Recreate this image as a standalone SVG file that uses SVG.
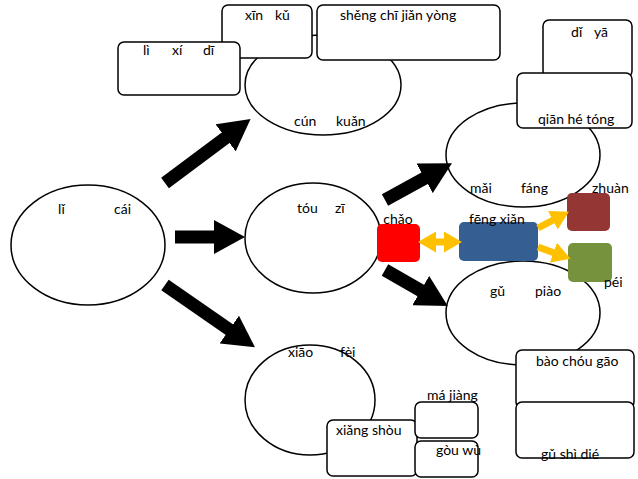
<svg xmlns="http://www.w3.org/2000/svg" width="638" height="479" viewBox="0 0 638 479">
<style>
.e{fill:#fff;stroke:#000;stroke-width:1.5}
.b{fill:#fff;stroke:#000;stroke-width:1.5}
text{font-family:Lato,"Liberation Sans","DejaVu Sans",sans-serif;font-size:14px;fill:#000}
.k{fill:none;stroke:#000;stroke-width:13}
.y{fill:none;stroke:#FFC000;stroke-width:7}
</style>
<defs>
<marker id="ka" markerWidth="2.4" markerHeight="2.6" refX="1" refY="1.3" orient="auto" markerUnits="strokeWidth"><path d="M0,0L2.4,1.3L0,2.6z" fill="#000"/></marker>
<marker id="ya" markerWidth="2.6" markerHeight="3" refX="1" refY="1.5" orient="auto-start-reverse" markerUnits="strokeWidth"><path d="M0,0L2.6,1.5L0,3z" fill="#FFC000"/></marker>
</defs>
<g id="licai"><ellipse class="e" cx="88" cy="245" rx="77" ry="60"/><text x="58" y="214">lǐ</text><text x="114" y="214">cái</text></g>
<g id="cunkuan"><ellipse class="e" cx="323" cy="85" rx="78" ry="50"/><text x="294" y="126">cún</text><text x="336" y="126">kuǎn</text></g>
<g id="xinku"><rect class="b" x="222" y="5" width="90" height="53" rx="6"/><text x="245" y="20">xīn</text><text x="275" y="20">kǔ</text></g>
<g id="shengchi"><rect class="b" x="317" y="5" width="183" height="55" rx="6"/><text x="340" y="20">shěng chī jiǎn yòng</text></g>
<g id="lixidi"><rect class="b" x="118" y="42" width="122" height="53" rx="6"/><text x="143" y="55">lì</text><text x="172" y="55">xí</text><text x="203" y="55">dī</text></g>
<g id="touzi"><ellipse class="e" cx="313" cy="238" rx="68" ry="55"/><text x="297" y="213">tóu</text><text x="335" y="213">zī</text></g>
<g id="xiaofei"><ellipse class="e" cx="310" cy="400" rx="65" ry="55"/><text x="288" y="357">xiāo</text><text x="340" y="357">fèi</text></g>
<g id="maifang"><ellipse class="e" cx="523" cy="155" rx="77" ry="52"/><text x="470" y="193">mǎi</text><text x="521" y="193">fáng</text></g>
<g id="gupiao"><ellipse class="e" cx="523" cy="313" rx="77" ry="52"/><text x="490" y="296">gǔ</text><text x="535" y="296">piào</text></g>
<g id="diya"><rect class="b" x="543" y="20" width="89" height="57" rx="6"/><text x="571" y="37">dǐ</text><text x="594" y="37">yā</text></g>
<g id="qianhetong"><rect class="b" x="517" y="73" width="115" height="55" rx="6"/><text x="538" y="124">qiān hé tóng</text></g>
<g id="baochou"><rect class="b" x="516" y="350" width="118" height="58" rx="6"/><text x="536" y="366">bào chóu gāo</text></g>
<g id="gushidie"><rect class="b" x="516" y="402" width="118" height="56" rx="6"/><text x="541" y="459">gǔ shì dié</text></g>
<g id="xiangshou"><rect class="b" x="327" y="420" width="90" height="56" rx="6"/><text x="336" y="435">xiǎng shòu</text></g>
<g id="majiang"><rect class="b" x="415" y="402" width="63" height="36" rx="6"/><text x="427" y="400">má jiàng</text></g>
<g id="gouwu"><rect class="b" x="415" y="441" width="63" height="36" rx="6"/><text x="436" y="455">gòu wù</text></g>
<g id="chao"><rect x="377" y="224" width="43" height="38" rx="5" fill="#FF0000"/><text x="398" y="224" text-anchor="middle">chǎo</text></g>
<g id="fengxian"><rect x="459" y="222" width="79" height="39" rx="5" fill="#355E92"/><text x="469" y="224">fēng xiǎn</text></g>
<g id="zhuan"><rect x="567" y="193" width="43" height="38" rx="5" fill="#943634"/><text x="592" y="193">zhuàn</text></g>
<g id="pei"><rect x="568" y="243" width="44" height="39" rx="5" fill="#76923C"/><text x="604" y="287">péi</text></g>
<g id="connectors">
<path class="k" d="M165,183L236,130" marker-end="url(#ka)"/>
<path class="k" d="M175,237L227,237" marker-end="url(#ka)"/>
<path class="k" d="M165,285L240,337" marker-end="url(#ka)"/>
<path class="k" d="M385,200L436,172" marker-end="url(#ka)"/>
<path class="k" d="M385,270L432,297" marker-end="url(#ka)"/>
<path class="y" d="M429,242L451,242" marker-start="url(#ya)" marker-end="url(#ya)"/>
<path class="y" d="M538,228L559,217" marker-end="url(#ya)"/>
<path class="y" d="M538,247L560,255" marker-end="url(#ya)"/>
</g>
</svg>
